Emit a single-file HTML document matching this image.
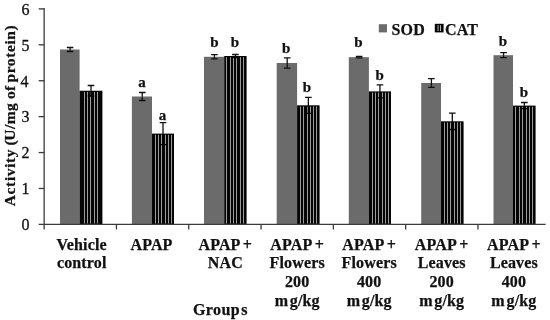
<!DOCTYPE html>
<html lang="en"><head><meta charset="utf-8"><title>SOD and CAT activity</title>
<style>html,body{margin:0;padding:0;background:#fff;}body{width:550px;height:320px;overflow:hidden;}svg{display:block;filter:blur(0.4px);}text{font-family:"Liberation Serif","Times New Roman",serif;fill:#111;}.b{font-weight:bold;font-size:16px;letter-spacing:0.15px;stroke:#111;stroke-width:0.25px;}.a{font-weight:bold;font-size:15px;stroke:#111;stroke-width:0.25px;}.t{font-size:16px;stroke:#111;stroke-width:0.3px;}</style></head><body>
<svg width="550" height="320" viewBox="0 0 550 320">
<rect width="550" height="320" fill="#fff"/>
<rect x="60.0" y="49.5" width="19.60" height="174.90" fill="#6b6b6b"/>
<rect x="79.6" y="90.75" width="22.80" height="133.65" fill="#050505"/>
<rect x="84" y="91.95" width="1" height="131.65" fill="#9c9c9c"/>
<rect x="87" y="91.95" width="1" height="131.65" fill="#9c9c9c"/>
<rect x="90" y="91.95" width="1" height="131.65" fill="#9c9c9c"/>
<rect x="94" y="91.95" width="1" height="131.65" fill="#9c9c9c"/>
<rect x="97" y="91.95" width="1" height="131.65" fill="#9c9c9c"/>
<path d="M66.80 47.50H73.40M70.10 47.50V49.50" stroke="#111" stroke-width="1.3" fill="none"/>
<path d="M70.10 49.50V51.50M66.80 51.50H73.40" stroke="#111" stroke-width="1.3" fill="none"/>
<path d="M87.70 85.50H94.30M91.00 85.50V90.75" stroke="#111" stroke-width="1.3" fill="none"/>
<path d="M91.00 90.75V96.00M87.70 96.00H94.30" stroke="#000" stroke-width="1.3" fill="none"/>
<rect x="131.9" y="96.5" width="20.10" height="127.90" fill="#6b6b6b"/>
<rect x="152.0" y="133.6" width="22.00" height="90.80" fill="#050505"/>
<rect x="155" y="134.80" width="1" height="88.80" fill="#9c9c9c"/>
<rect x="158" y="134.80" width="1" height="88.80" fill="#9c9c9c"/>
<rect x="161" y="134.80" width="1" height="88.80" fill="#9c9c9c"/>
<rect x="165" y="134.80" width="1" height="88.80" fill="#9c9c9c"/>
<rect x="168" y="134.80" width="1" height="88.80" fill="#9c9c9c"/>
<rect x="171" y="134.80" width="1" height="88.80" fill="#9c9c9c"/>
<path d="M138.95 92.50H145.55M142.25 92.50V96.50" stroke="#111" stroke-width="1.3" fill="none"/>
<path d="M142.25 96.50V100.50M138.95 100.50H145.55" stroke="#111" stroke-width="1.3" fill="none"/>
<path d="M159.70 122.60H166.30M163.00 122.60V133.60" stroke="#111" stroke-width="1.3" fill="none"/>
<path d="M163.00 133.60V144.60M159.70 144.60H166.30" stroke="#000" stroke-width="1.3" fill="none"/>
<text class="a" x="141.90" y="87.20" text-anchor="middle">a</text>
<text class="a" x="162.60" y="120.10" text-anchor="middle">a</text>
<rect x="204.0" y="56.8" width="20.20" height="167.60" fill="#6b6b6b"/>
<rect x="224.2" y="56.0" width="22.40" height="168.40" fill="#050505"/>
<rect x="226" y="57.20" width="1" height="166.40" fill="#9c9c9c"/>
<rect x="230" y="57.20" width="1" height="166.40" fill="#9c9c9c"/>
<rect x="233" y="57.20" width="1" height="166.40" fill="#9c9c9c"/>
<rect x="236" y="57.20" width="1" height="166.40" fill="#9c9c9c"/>
<rect x="240" y="57.20" width="1" height="166.40" fill="#9c9c9c"/>
<rect x="243" y="57.20" width="1" height="166.40" fill="#9c9c9c"/>
<path d="M211.10 54.70H217.70M214.40 54.70V56.80" stroke="#111" stroke-width="1.3" fill="none"/>
<path d="M214.40 56.80V58.90M211.10 58.90H217.70" stroke="#111" stroke-width="1.3" fill="none"/>
<path d="M232.10 54.50H238.70M235.40 54.50V56.00" stroke="#111" stroke-width="1.3" fill="none"/>
<path d="M235.40 56.00V57.50M232.10 57.50H238.70" stroke="#000" stroke-width="1.3" fill="none"/>
<text class="a" x="214.30" y="47.10" text-anchor="middle">b</text>
<text class="a" x="234.80" y="47.10" text-anchor="middle">b</text>
<rect x="276.7" y="63.0" width="20.40" height="161.40" fill="#6b6b6b"/>
<rect x="297.1" y="105.3" width="22.50" height="119.10" fill="#050505"/>
<rect x="300" y="106.50" width="1" height="117.10" fill="#9c9c9c"/>
<rect x="303" y="106.50" width="1" height="117.10" fill="#9c9c9c"/>
<rect x="307" y="106.50" width="1" height="117.10" fill="#9c9c9c"/>
<rect x="310" y="106.50" width="1" height="117.10" fill="#9c9c9c"/>
<rect x="313" y="106.50" width="1" height="117.10" fill="#9c9c9c"/>
<rect x="316" y="106.50" width="1" height="117.10" fill="#9c9c9c"/>
<path d="M283.90 57.90H290.50M287.20 57.90V63.00" stroke="#111" stroke-width="1.3" fill="none"/>
<path d="M287.20 63.00V68.10M283.90 68.10H290.50" stroke="#111" stroke-width="1.3" fill="none"/>
<path d="M305.05 97.30H311.65M308.35 97.30V105.30" stroke="#111" stroke-width="1.3" fill="none"/>
<path d="M308.35 105.30V113.30M305.05 113.30H311.65" stroke="#000" stroke-width="1.3" fill="none"/>
<text class="a" x="286.10" y="52.80" text-anchor="middle">b</text>
<text class="a" x="306.90" y="92.00" text-anchor="middle">b</text>
<rect x="348.8" y="57.2" width="20.10" height="167.20" fill="#6b6b6b"/>
<rect x="368.9" y="91.4" width="22.10" height="133.00" fill="#050505"/>
<rect x="372" y="92.60" width="1" height="131.00" fill="#9c9c9c"/>
<rect x="375" y="92.60" width="1" height="131.00" fill="#9c9c9c"/>
<rect x="378" y="92.60" width="1" height="131.00" fill="#9c9c9c"/>
<rect x="382" y="92.60" width="1" height="131.00" fill="#9c9c9c"/>
<rect x="385" y="92.60" width="1" height="131.00" fill="#9c9c9c"/>
<rect x="388" y="92.60" width="1" height="131.00" fill="#9c9c9c"/>
<path d="M355.85 56.50H362.45M359.15 56.50V57.20" stroke="#111" stroke-width="1.3" fill="none"/>
<path d="M359.15 57.20V57.90M355.85 57.90H362.45" stroke="#111" stroke-width="1.3" fill="none"/>
<path d="M376.65 84.90H383.25M379.95 84.90V91.40" stroke="#111" stroke-width="1.3" fill="none"/>
<path d="M379.95 91.40V97.90M376.65 97.90H383.25" stroke="#000" stroke-width="1.3" fill="none"/>
<text class="a" x="358.40" y="46.80" text-anchor="middle">b</text>
<text class="a" x="379.70" y="79.60" text-anchor="middle">b</text>
<rect x="421.2" y="83.0" width="19.80" height="141.40" fill="#6b6b6b"/>
<rect x="441.0" y="121.3" width="22.60" height="103.10" fill="#050505"/>
<rect x="444" y="122.50" width="1" height="101.10" fill="#9c9c9c"/>
<rect x="447" y="122.50" width="1" height="101.10" fill="#9c9c9c"/>
<rect x="450" y="122.50" width="1" height="101.10" fill="#9c9c9c"/>
<rect x="454" y="122.50" width="1" height="101.10" fill="#9c9c9c"/>
<rect x="457" y="122.50" width="1" height="101.10" fill="#9c9c9c"/>
<rect x="460" y="122.50" width="1" height="101.10" fill="#9c9c9c"/>
<path d="M428.10 78.70H434.70M431.40 78.70V83.00" stroke="#111" stroke-width="1.3" fill="none"/>
<path d="M431.40 83.00V87.30M428.10 87.30H434.70" stroke="#111" stroke-width="1.3" fill="none"/>
<path d="M449.00 113.10H455.60M452.30 113.10V121.30" stroke="#111" stroke-width="1.3" fill="none"/>
<path d="M452.30 121.30V129.50M449.00 129.50H455.60" stroke="#000" stroke-width="1.3" fill="none"/>
<rect x="493.5" y="55.2" width="19.50" height="169.20" fill="#6b6b6b"/>
<rect x="513.0" y="105.6" width="22.60" height="118.80" fill="#050505"/>
<rect x="515" y="106.80" width="1" height="116.80" fill="#9c9c9c"/>
<rect x="519" y="106.80" width="1" height="116.80" fill="#9c9c9c"/>
<rect x="522" y="106.80" width="1" height="116.80" fill="#9c9c9c"/>
<rect x="526" y="106.80" width="1" height="116.80" fill="#9c9c9c"/>
<rect x="529" y="106.80" width="1" height="116.80" fill="#9c9c9c"/>
<rect x="532" y="106.80" width="1" height="116.80" fill="#9c9c9c"/>
<path d="M500.25 52.70H506.85M503.55 52.70V55.20" stroke="#111" stroke-width="1.3" fill="none"/>
<path d="M503.55 55.20V57.70M500.25 57.70H506.85" stroke="#111" stroke-width="1.3" fill="none"/>
<path d="M521.00 102.50H527.60M524.30 102.50V105.60" stroke="#111" stroke-width="1.3" fill="none"/>
<path d="M524.30 105.60V108.70M521.00 108.70H527.60" stroke="#000" stroke-width="1.3" fill="none"/>
<text class="a" x="502.80" y="46.20" text-anchor="middle">b</text>
<text class="a" x="523.80" y="96.80" text-anchor="middle">b</text>
<path d="M44.15 8V229.4" stroke="#3a3a3a" stroke-width="1.3" fill="none"/>
<path d="M38.65 224.4H545.6" stroke="#3a3a3a" stroke-width="1.3" fill="none"/>
<path d="M38.65 188.48H44.15" stroke="#3a3a3a" stroke-width="1.3" fill="none"/>
<path d="M38.65 152.56H44.15" stroke="#3a3a3a" stroke-width="1.3" fill="none"/>
<path d="M38.65 116.64H44.15" stroke="#3a3a3a" stroke-width="1.3" fill="none"/>
<path d="M38.65 80.72H44.15" stroke="#3a3a3a" stroke-width="1.3" fill="none"/>
<path d="M38.65 44.80H44.15" stroke="#3a3a3a" stroke-width="1.3" fill="none"/>
<path d="M38.65 8.88H44.15" stroke="#3a3a3a" stroke-width="1.3" fill="none"/>
<path d="M116.45 224.4V229.4" stroke="#3a3a3a" stroke-width="1.3" fill="none"/>
<path d="M188.75 224.4V229.4" stroke="#3a3a3a" stroke-width="1.3" fill="none"/>
<path d="M261.05 224.4V229.4" stroke="#3a3a3a" stroke-width="1.3" fill="none"/>
<path d="M333.35 224.4V229.4" stroke="#3a3a3a" stroke-width="1.3" fill="none"/>
<path d="M405.65 224.4V229.4" stroke="#3a3a3a" stroke-width="1.3" fill="none"/>
<path d="M477.95 224.4V229.4" stroke="#3a3a3a" stroke-width="1.3" fill="none"/>
<text class="t" x="29.6" y="229.70" text-anchor="end">0</text>
<text class="t" x="29.6" y="193.78" text-anchor="end">1</text>
<text class="t" x="29.6" y="157.86" text-anchor="end">2</text>
<text class="t" x="29.6" y="121.94" text-anchor="end">3</text>
<text class="t" x="28.400000000000002" y="87.02" text-anchor="end">4</text>
<text class="t" x="29.6" y="50.80" text-anchor="end">5</text>
<text class="t" x="29.6" y="15.28" text-anchor="end">6</text>
<text class="b" style="letter-spacing:0;font-size:15.5px" transform="translate(14.5 206.2) rotate(-90)" textLength="56.8" lengthAdjust="spacing">Activity</text>
<text class="b" style="letter-spacing:0.45px;font-size:15.5px" transform="translate(14.5 145.4) rotate(-90)">(<tspan dx="-0.9">U/mg</tspan></text>
<text class="b" style="letter-spacing:0;font-size:15.5px" transform="translate(14.5 99.1) rotate(-90)" textLength="13.3" lengthAdjust="spacing">of</text>
<text class="b" style="letter-spacing:0;font-size:15.5px" transform="translate(14.5 82.5) rotate(-90)" textLength="57.2" lengthAdjust="spacing">protein)</text>
<rect x="378.8" y="24.2" width="8.2" height="8.2" fill="#6b6b6b"/>
<text class="b" x="391.5" y="34.7">SOD</text>
<rect x="434.8" y="23.8" width="8.8" height="8.6" fill="#050505"/>
<rect x="437.6" y="25.2" width="0.9" height="5.8" fill="#ccc"/><rect x="440.0" y="25.2" width="0.9" height="5.8" fill="#ccc"/>
<text class="b" x="445.1" y="34.7">CAT</text>
<text class="b" x="81.70" y="249.50" text-anchor="middle">Vehicle</text>
<text class="b" x="81.70" y="268.40" text-anchor="middle">control</text>
<text class="b" x="151.50" y="249.50" text-anchor="middle">APAP</text>
<text class="b" x="225.30" y="249.50" text-anchor="middle">APAP<tspan dx="-0.9"> +</tspan></text>
<text class="b" x="225.30" y="268.40" text-anchor="middle">NAC</text>
<text class="b" x="297.20" y="249.50" text-anchor="middle">APAP<tspan dx="-0.9"> +</tspan></text>
<text class="b" x="297.20" y="268.40" text-anchor="middle">Flowers</text>
<text class="b" x="297.20" y="287.30" text-anchor="middle">200</text>
<text class="b" x="297.20" y="306.20" text-anchor="middle">m<tspan dx="1.7">g/kg</tspan></text>
<text class="b" x="369.20" y="249.50" text-anchor="middle">APAP<tspan dx="-0.9"> +</tspan></text>
<text class="b" x="369.20" y="268.40" text-anchor="middle">Flowers</text>
<text class="b" x="369.20" y="287.30" text-anchor="middle">400</text>
<text class="b" x="369.20" y="306.20" text-anchor="middle">m<tspan dx="1.7">g/kg</tspan></text>
<text class="b" x="441.70" y="249.50" text-anchor="middle">APAP<tspan dx="-0.9"> +</tspan></text>
<text class="b" x="441.70" y="268.40" text-anchor="middle">Leaves</text>
<text class="b" x="441.70" y="287.30" text-anchor="middle">200</text>
<text class="b" x="441.70" y="306.20" text-anchor="middle">m<tspan dx="1.7">g/kg</tspan></text>
<text class="b" x="513.90" y="249.50" text-anchor="middle">APAP<tspan dx="-0.9"> +</tspan></text>
<text class="b" x="513.90" y="268.40" text-anchor="middle">Leaves</text>
<text class="b" x="513.90" y="287.30" text-anchor="middle">400</text>
<text class="b" x="513.90" y="306.20" text-anchor="middle">m<tspan dx="1.7">g/kg</tspan></text>
<text class="b" x="193.0" y="315.4" style="letter-spacing:0.4px">Group<tspan dx="1.3">s</tspan></text>
</svg></body></html>
